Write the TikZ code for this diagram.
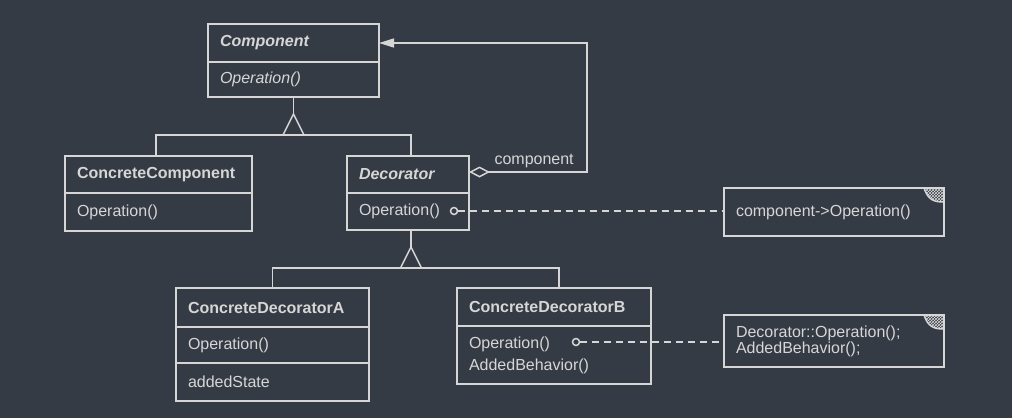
\documentclass[tikz,border=0pt]{standalone}
\usepackage{fontspec}
\setmainfont{Liberation Sans}
\usetikzlibrary{arrows.meta, calc, patterns}
\definecolor{bg}{HTML}{353B45}
\definecolor{fg}{HTML}{D6D6D6}

\begin{document}
\begin{tikzpicture}[x=1pt, y=-1pt,
  every node/.style={text=fg, font=\fontsize{16}{22}\selectfont},
  line/.style={draw=fg, line width=1.5pt},
  cls/.style n args={3}{line, anchor=north west, outer sep=0pt,
    inner xsep=12pt, inner ysep=0pt, minimum width=#1, text width=#2,
    minimum height=#3, align=left},
  abstractname/.style={font=\fontsize{16}{22}\selectfont\bfseries\itshape},
  abstractop/.style={font=\fontsize{16}{22}\selectfont\itshape},
  classname/.style={font=\fontsize{16}{22}\selectfont\bfseries},
  pin/.style={circle, line, minimum size=7pt, inner sep=0pt, outer sep=0pt},
  link/.style={line, dash pattern=on 7pt off 5pt},
  ear/.style={pattern=crosshatch, pattern color=fg!85}]

\fill[bg] (0,0) rectangle (1012,418);
\useasboundingbox (0,0) rectangle (1012,418);

% Component (abstract)
\node[cls={171pt}{147pt}{38pt}, abstractname] (component-name) at (208,24) {Component};
\node[cls={171pt}{147pt}{35pt}, abstractop] (component-ops) at (208,62) {Operation()};

% ConcreteComponent
\node[cls={187pt}{163pt}{37pt}, classname] (concrete-name) at (65,156) {ConcreteComponent};
\node[cls={187pt}{163pt}{38pt}] (concrete-ops) at (65,193) {Operation()};

% Decorator (abstract)
\node[cls={122pt}{98pt}{37pt}, abstractname] (decorator-name) at (347,156) {Decorator};
\node[cls={122pt}{98pt}{37pt}] (decorator-ops) at (347,193) {Operation()};

% ConcreteDecoratorA
\node[cls={193pt}{169pt}{39pt}, classname] (cda-name) at (176,288) {ConcreteDecoratorA};
\node[cls={193pt}{169pt}{36pt}] (cda-ops) at (176,327) {Operation()};
\node[cls={193pt}{169pt}{38pt}] (cda-state) at (176,363) {addedState};

% ConcreteDecoratorB
\node[cls={194pt}{170pt}{38pt}, classname] (cdb-name) at (457,288) {ConcreteDecoratorB};
\node[cls={194pt}{170pt}{58pt}] (cdb-ops) at (457,326) {Operation()\\AddedBehavior()};

% Notes
\node[cls={220pt}{196pt}{48pt}] (note1) at (724,188) {component->Operation()};
\node[cls={220pt}{196pt}{52pt}, font=\fontsize{16}{16}\selectfont] (note2) at (724,315)
  {Decorator::Operation();\\AddedBehavior();};

% folded corners of the notes
\foreach \n in {note1, note2} {
  \coordinate (\n-ne) at (\n.north east);
  \fill[ear] ($(\n-ne)+(-20,0)$) -- (\n-ne) -- ($(\n-ne)+(0,14)$)
    .. controls ($(\n-ne)+(-10,14)$) and ($(\n-ne)+(-16,12)$) .. ($(\n-ne)+(-20,0)$);
  \draw[line] ($(\n-ne)+(-20,0)$) .. controls ($(\n-ne)+(-16,12)$) and ($(\n-ne)+(-10,14)$) .. ($(\n-ne)+(0,14)$);
}

% Generalization: ConcreteComponent, Decorator -> Component
\coordinate (gen1) at ($(component-ops.south)+(0,38)$);
\draw[line] (component-ops.south) -- ($(gen1)+(0,-21)$);
\draw[line, line join=miter] ($(gen1)+(-10.5,0)$) -- ($(gen1)+(0,-21)$) -- ($(gen1)+(10.5,0)$) -- cycle;
\draw[line] ([xshift=-2.5pt]concrete-name.north) |- (gen1) -| ([xshift=3pt]decorator-name.north);

% Generalization: ConcreteDecoratorA, ConcreteDecoratorB -> Decorator
\coordinate (gen2) at ($([xshift=3pt]decorator-ops.south)+(0,38)$);
\draw[line] ([xshift=3pt]decorator-ops.south) -- ($(gen2)+(0,-21)$);
\draw[line, line join=miter] ($(gen2)+(-10.5,0)$) -- ($(gen2)+(0,-21)$) -- ($(gen2)+(10.5,0)$) -- cycle;
\draw[line] (cda-name.north) |- (gen2) -| ([xshift=5pt]cdb-name.north);

% Aggregation: Decorator holds a component
\draw[line, {Diamond[open, length=21pt, width=11pt]}-{Triangle[length=15pt, width=9pt]}]
  ([yshift=2.5pt]decorator-name.east) -- ++(118,0) |- (component-name.east);
\node[anchor=base west] (agg-label) at (491,164) {component};

% Implementation notes
\node[pin] (dec-pin) at (454,211) {};
\draw[link] (dec-pin.east) -- (note1.west |- dec-pin.east);
\node[pin] (cdb-pin) at (576,342) {};
\draw[link] (cdb-pin.east) -- (note2.west |- cdb-pin.east);

\end{tikzpicture}
\end{document}
